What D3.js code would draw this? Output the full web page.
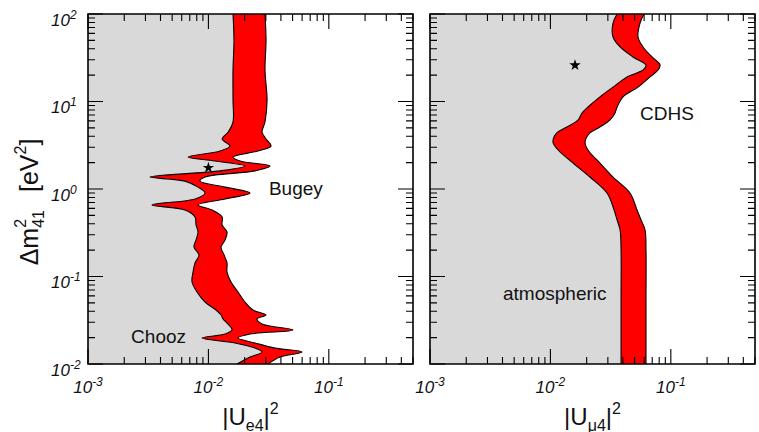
<!DOCTYPE html>
<html>
<head>
<meta charset="utf-8">
<script src="https://cdn.jsdelivr.net/npm/d3@7"></script>
<style>
  body { margin: 0; background: #fff; }
  svg { display: block; font-family: "Liberation Sans", Arial, Helvetica, sans-serif; }
</style>
</head>
<body>
<svg id="chart" width="759" height="432"></svg>
<script>
// left panel: |U_e4|^2 band (Bugey + Chooz), rows of delta m^2
const eDm2 = [100, 50.5, 22.9, 10.4, 5.83, 4.48, 3.73, 3.10, 2.72, 2.32, 2.09, 1.83, 1.61, 1.37, 1.23,
  1.05, 0.900, 0.769, 0.657, 0.575, 0.479, 0.388, 0.323, 0.261, 0.217, 0.176, 0.143, 0.1125, 0.0865,
  0.0665, 0.0511, 0.0414, 0.0363, 0.0327, 0.0286, 0.0245, 0.0220, 0.0198, 0.0174, 0.0152, 0.0137, 0.0120, 0.0100];
const eLow = [0.0160, 0.0163, 0.0160, 0.0160, 0.0160, 0.0146, 0.0130, 0.0151, 0.0125, 0.00677, 0.0113,
  0.0201, 0.0125, 0.00327, 0.00639, 0.00820, 0.00937, 0.00774, 0.00340, 0.00639, 0.00774, 0.00789, 0.00820,
  0.00789, 0.00759, 0.00835, 0.00774, 0.00745, 0.00731, 0.00804, 0.00937, 0.01157, 0.01273, 0.01322, 0.01455,
  0.01570, 0.01374, 0.00885, 0.01663, 0.02438, 0.02787, 0.02216, 0.01728];
const eHigh = [0.0295, 0.0301, 0.0295, 0.0307, 0.0295, 0.0279, 0.0301, 0.0331, 0.0258, 0.0160, 0.0183,
  0.0325, 0.0244, 0.00937, 0.00851, 0.01374, 0.02216, 0.01374, 0.00820, 0.01071, 0.0130, 0.0130, 0.01427,
  0.01374, 0.01273, 0.01348, 0.01427, 0.01427, 0.01540, 0.01761, 0.0201, 0.02346, 0.0301, 0.02533, 0.02787,
  0.0504, 0.02216, 0.01761, 0.02438, 0.03575, 0.0599, 0.03933, 0.03126];

// right panel: |U_mu4|^2 band (CDHS + atmospheric)
const muDm2 = [100, 78.9, 54.6, 42.0, 32.3, 26.1, 22.9, 19.1, 14.6, 11.3, 8.65, 7.39, 6.15, 5.11, 4.37,
  3.44, 2.79, 1.98, 1.37, 0.900, 0.575, 0.442, 0.340, 0.201, 0.0539, 0.0100];
const muLow = [0.0358, 0.0331, 0.0331, 0.0379, 0.0485, 0.0622, 0.0588, 0.0433, 0.0331, 0.0258, 0.0205,
  0.0183, 0.0170, 0.0137, 0.0113, 0.0105, 0.0116, 0.0154, 0.0213, 0.0295, 0.0338, 0.0358, 0.0379, 0.0386,
  0.0386, 0.0386];
const muHigh = [0.0599, 0.0555, 0.0534, 0.0588, 0.0698, 0.0814, 0.0783, 0.0672, 0.0534, 0.0401, 0.0358,
  0.0344, 0.0313, 0.0258, 0.0213, 0.0194, 0.0205, 0.0258, 0.0331, 0.0458, 0.0524, 0.0566, 0.0611, 0.0622,
  0.0622, 0.0622];

// best fit points
const eStar = [0.010, 1.75];
const muStar = [0.016, 26];

// tick label exponents
const xTickExp = [-3, -2, -1];
const yTickExp = [-2, -1, 0, 1, 2];

// experiment names
const eNames = ["Bugey", "Chooz"];
const eNamePos = [[0.0318, 0.853], [0.00228, 0.0174]];
const muNames = ["CDHS", "atmospheric"];
const muNamePos = [[0.0555, 6.15], [0.00404, 0.0539]];

const W = 325, TOP = 14, BOTTOM = 364;
const MAJOR = 15, MINOR = 7;
const GREY = "#d9d9d9";

const svg = d3.select("#chart");

const panels = [
  { left: 88, dm2: eDm2, low: eLow, high: eHigh, star: eStar, sub: "e4", names: eNames, namePos: eNamePos, yLabels: true },
  { left: 430, dm2: muDm2, low: muLow, high: muHigh, star: muStar, sub: "\u03bc4", names: muNames, namePos: muNamePos, yLabels: false }
];

const y = d3.scaleLog().domain([1e-2, 1e2]).range([BOTTOM, TOP]);

// minor + major tick values
const xTickVals = [];
[1e-3, 1e-2, 1e-1].forEach(d => { for (let k = 1; k <= 9; k++) if (k * d <= 0.5001) xTickVals.push({ v: k * d, major: k === 1 }); });
const yTickVals = [];
[1e-2, 1e-1, 1e0, 1e1].forEach(d => { for (let k = 1; k <= 9; k++) yTickVals.push({ v: k * d, major: k === 1 }); });
yTickVals.push({ v: 1e2, major: true });

// texts outside the plot boxes first
const yt = svg.append("text").attr("transform", "translate(38,202) rotate(-90)")
  .attr("text-anchor", "middle").attr("font-size", 25).attr("fill", "#111");
yt.append("tspan").text("\u0394m");
yt.append("tspan").attr("font-size", 16).attr("dy", -12).text("2");
yt.append("tspan").attr("font-size", 16).attr("dx", -8.9).attr("dy", 18).text("41");
yt.append("tspan").attr("dx", 18).attr("dy", -6).text("[eV");
yt.append("tspan").attr("font-size", 16).attr("dy", -12).text("2");
yt.append("tspan").attr("dy", 12).text("]");

panels.forEach(p => {
  const x = d3.scaleLog().domain([1e-3, 0.5]).range([p.left, p.left + W]);

  xTickExp.forEach(e => {
    const t = svg.append("text").attr("x", x(Math.pow(10, e))).attr("y", 393)
      .attr("text-anchor", "middle").attr("font-style", "italic").attr("font-size", 17).attr("fill", "#111");
    t.append("tspan").text("10");
    t.append("tspan").attr("font-size", 12).attr("dy", -7).text(e < 0 ? "-" + (-e) : e);
  });

  if (p.yLabels) {
    yTickExp.forEach(e => {
      const t = svg.append("text").attr("x", 51).attr("y", y(Math.pow(10, e)) + 11.5)
        .attr("font-style", "italic").attr("font-size", 17).attr("fill", "#111");
      t.append("tspan").text("10");
      t.append("tspan").attr("font-size", 12).attr("dy", -7).text(e < 0 ? "-" + (-e) : e);
    });
  }

  const xt = svg.append("text").attr("x", p.left + W / 2).attr("y", 425)
    .attr("text-anchor", "middle").attr("font-size", 24).attr("fill", "#111");
  xt.append("tspan").text("|U");
  xt.append("tspan").attr("font-size", 16).attr("dy", 6).text(p.sub);
  xt.append("tspan").attr("dy", -6).text("|");
  xt.append("tspan").attr("font-size", 16).attr("dy", -11).text("2");
});

// plot boxes
panels.forEach(p => {
  const x = d3.scaleLog().domain([1e-3, 0.5]).range([p.left, p.left + W]);
  const rows = p.dm2.map((m, j) => ({ m, lo: p.low[j], hi: p.high[j] }));
  const right = p.left + W;
  const loLine = d3.line().curve(d3.curveCatmullRom.alpha(0.5)).y(d => y(d.m)).x(d => x(d.lo));
  const hiLine = d3.line().curve(d3.curveCatmullRom.alpha(0.5)).y(d => y(d.m)).x(d => x(d.hi));

  const g = svg.append("g");

  // excluded region: grey, left of the band
  g.append("path").style("fill", GREY)
    .attr("d", loLine(rows) + `L${p.left},${BOTTOM}L${p.left},${TOP}Z`);
  // allowed region: white, right of the band
  g.append("path").style("fill", "#ffffff")
    .attr("d", hiLine(rows) + `L${right},${BOTTOM}L${right},${TOP}Z`);

  // red band: down the low edge, back up the high edge
  const back = hiLine(rows.slice().reverse()).replace(/^M/, "L");
  g.append("path").style("fill", "#ff0000")
    .attr("d", loLine(rows) + back + "Z");

  g.append("path").style("fill", "none").style("stroke", "#000").style("stroke-width", 1.1)
    .attr("d", loLine(rows) + hiLine(rows));

  // star
  g.append("path")
    .attr("transform", `translate(${x(p.star[0])},${y(p.star[1])})`)
    .attr("d", d3.symbol(d3.symbolStar, 40)())
    .style("fill", "#000");

  // names
  p.names.forEach((n, j) => {
    g.append("text")
      .attr("x", x(p.namePos[j][0])).attr("y", y(p.namePos[j][1]))
      .attr("font-size", 19).attr("fill", "#111").text(n);
  });

  // ticks on all four sides pointing inwards, one path
  let td = "";
  xTickVals.forEach(t => {
    const len = t.major ? MAJOR : MINOR;
    const xx = x(t.v);
    td += `M${xx},${BOTTOM}V${BOTTOM - len}M${xx},${TOP}V${TOP + len}`;
  });
  yTickVals.forEach(t => {
    const len = t.major ? MAJOR : MINOR;
    const yy = y(t.v);
    td += `M${p.left},${yy}H${p.left + len}M${right},${yy}H${right - len}`;
  });
  g.append("path").attr("d", td).style("fill", "none").style("stroke", "#000").style("stroke-width", 1.1);

  // frame
  g.append("path").attr("d", `M${p.left},${TOP}H${right}V${BOTTOM}H${p.left}Z`)
    .style("fill", "none").style("stroke", "#000").style("stroke-width", 1.6);
});
</script>
</body>
</html>
